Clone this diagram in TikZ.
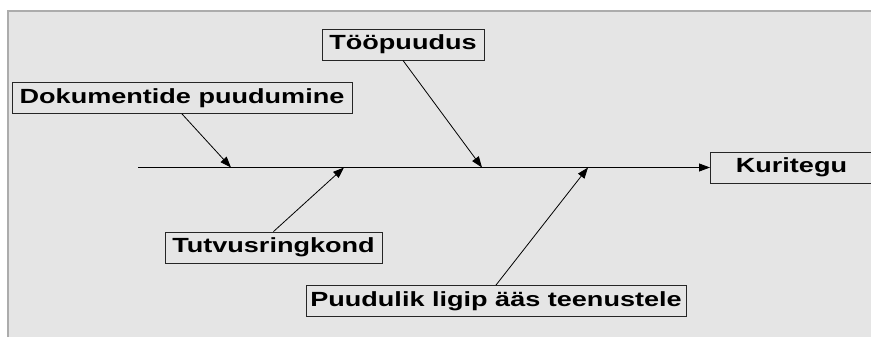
\documentclass[tikz,border=0pt]{standalone}
\usepackage{fontspec}
\newfontfamily\lbl{Liberation Sans}[FakeStretch=1.32]
\usetikzlibrary{arrows.meta}
\begin{document}
\begin{tikzpicture}[x=1bp,y=-1bp,
  box/.style={draw=black!85, line width=0.9bp, inner sep=0pt, minimum height=31bp,
    font=\lbl\bfseries\fontsize{20.5bp}{22bp}\selectfont},
  arr/.style={-{Triangle[length=11bp,width=8bp]}, line width=0.8bp, draw=black}]
\useasboundingbox (0,0) rectangle (871,337);
\fill[white] (0,0) rectangle (871,337);
\fill[gray!20] (8,11) rectangle (871,337);
\draw[gray!65, line width=2bp] (8,337) -- (8,11) -- (871,11);
% boxes
\node[box, minimum width=340bp] (dok) at (182,98) {Dokumentide puudumine};
\node[box, minimum width=162bp] (too) at (403,44.5) {Tööpuudus};
\node[box, minimum width=217bp] (tut) at (273.5,247.5) {Tutvusringkond};
\node[box, minimum width=380bp] (puu) at (496,301) {Puudulik ligip ääs teenustele};
\node[box, minimum width=162bp, anchor=west] (kur) at (710,167.5) {Kuritegu};
% spine
\coordinate (s0) at (138,167.5);
\coordinate (d1) at (231,167.5);
\coordinate (t1) at (482,167.5);
\coordinate (u1) at (344,167.5);
\coordinate (p1) at (588,167.5);
\draw[arr] (s0) -- (kur.west);
\draw[arr] (dok.south) -- (d1);
\draw[arr] (too.south) -- (t1);
\draw[arr] (tut.north) -- (u1);
\draw[arr] (puu.north) -- (p1);
\end{tikzpicture}
\end{document}
